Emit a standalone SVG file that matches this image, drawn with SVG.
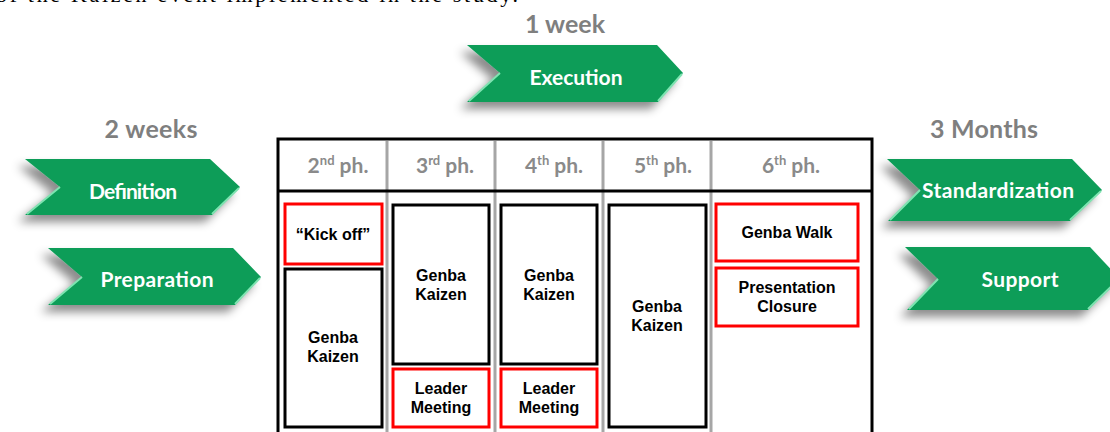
<svg xmlns="http://www.w3.org/2000/svg" width="1110" height="432" viewBox="0 0 1110 432">
<style>
.arrow{fill:#0c9d58}
.bevel{fill:none;stroke:#7fe3b1;stroke-width:2}
.atext{font-family:Lato,"Open Sans",sans-serif;font-weight:bold;font-size:21px;fill:#ffffff;text-anchor:middle}
.dur{font-family:Lato,"Open Sans",sans-serif;font-weight:bold;font-size:25px;fill:#7f7f7f;text-anchor:middle}
.hdr{font-family:Lato,"Open Sans",sans-serif;font-weight:bold;font-size:21px;fill:#8a8a8a;text-anchor:middle}
.sup{font-size:13px}
.bk{fill:#ffffff;stroke:#000000;stroke-width:3}
.rd{fill:#ffffff;stroke:#ff0000;stroke-width:3}
.bt{font-family:"Liberation Sans",Arial,sans-serif;font-weight:bold;font-size:16px;fill:#000000;text-anchor:middle}
.grid{stroke:#a6a6a6;stroke-width:3}
</style>
<defs>
<filter id="sh" x="-20%" y="-30%" width="140%" height="180%">
<feDropShadow dx="-7" dy="7" stdDeviation="5" flood-color="#000000" flood-opacity="0.45"/>
</filter>
</defs>
<rect width="1110" height="432" fill="#ffffff"/>
<text x="-4" y="2" font-family="'Liberation Serif','Times New Roman',serif" font-size="22" fill="#000000" textLength="522">of the Kaizen event implemented in the study.</text>

<g id="labels">
<text class="dur" x="151" y="138" textLength="93">2 weeks</text>
<text class="dur" x="565" y="33" textLength="80">1 week</text>
<text class="dur" x="984" y="138" textLength="108">3 Months</text>
</g>

<g id="definition">
<path class="arrow" filter="url(#sh)" d="M25,159 L210,159 L240,187 L212,215 L25,215 L60,187 Z"/>
<path class="bevel" d="M27,214 L60,187 M212,214 L239,188"/>
<text class="atext" x="133" y="199" textLength="88">Definition</text>
</g>
<g id="preparation">
<path class="arrow" filter="url(#sh)" d="M48,248 L233,248 L261,277 L235,305 L48,305 L82,277 Z"/>
<path class="bevel" d="M50,304 L82,277 M235,304 L260,278"/>
<text class="atext" x="157" y="287" textLength="113">Preparation</text>
</g>
<g id="execution">
<path class="arrow" filter="url(#sh)" d="M467,45 L657,45 L683,73 L658,102 L467,102 L500,73 Z"/>
<path class="bevel" d="M469,101 L500,73 M658,101 L682,74"/>
<text class="atext" x="576" y="85" textLength="93">Execution</text>
</g>
<g id="standardization">
<path class="arrow" filter="url(#sh)" d="M887,159 L1072,159 L1102,190 L1070,221 L888,221 L920,190 Z"/>
<path class="bevel" d="M890,220 L920,190 M1070,220 L1101,191"/>
<text class="atext" x="998" y="198" textLength="152">Standardization</text>
</g>
<g id="support">
<path class="arrow" filter="url(#sh)" d="M905,247 L1090,247 L1120,279 L1088,310 L907,310 L938,279 Z"/>
<path class="bevel" d="M909,309 L938,279 M1088,309 L1118,280"/>
<text class="atext" x="1020" y="287" textLength="77">Support</text>
</g>

<g id="table">
<rect x="278" y="139" width="594" height="310" fill="#ffffff" stroke="#000000" stroke-width="3"/>
<line class="grid" x1="387" y1="141" x2="387" y2="432"/>
<line class="grid" x1="495" y1="141" x2="495" y2="432"/>
<line class="grid" x1="603" y1="141" x2="603" y2="432"/>
<line class="grid" x1="711" y1="141" x2="711" y2="432"/>
<line x1="278" y1="191" x2="872" y2="191" stroke="#000000" stroke-width="3"/>
<text class="hdr" x="338" y="173">2<tspan class="sup" dy="-8">nd</tspan><tspan dy="8"> ph.</tspan></text>
<text class="hdr" x="445" y="173">3<tspan class="sup" dy="-8">rd</tspan><tspan dy="8"> ph.</tspan></text>
<text class="hdr" x="554" y="173">4<tspan class="sup" dy="-8">th</tspan><tspan dy="8"> ph.</tspan></text>
<text class="hdr" x="663" y="173">5<tspan class="sup" dy="-8">th</tspan><tspan dy="8"> ph.</tspan></text>
<text class="hdr" x="791" y="173">6<tspan class="sup" dy="-8">th</tspan><tspan dy="8"> ph.</tspan></text>
</g>

<g id="kickoff">
<rect class="rd" x="285" y="204" width="97" height="60"/>
<text class="bt" x="333" y="240">“Kick off”</text>
</g>
<g id="genba2">
<rect class="bk" x="285" y="269" width="97" height="158"/>
<text class="bt" x="333" y="343">Genba</text>
<text class="bt" x="333" y="362">Kaizen</text>
</g>
<g id="genba3">
<rect class="bk" x="393" y="205" width="96" height="159"/>
<text class="bt" x="441" y="281">Genba</text>
<text class="bt" x="441" y="300">Kaizen</text>
</g>
<g id="leader3">
<rect class="rd" x="393" y="369" width="96" height="58"/>
<text class="bt" x="441" y="394">Leader</text>
<text class="bt" x="441" y="413">Meeting</text>
</g>
<g id="genba4">
<rect class="bk" x="501" y="205" width="96" height="159"/>
<text class="bt" x="549" y="281">Genba</text>
<text class="bt" x="549" y="300">Kaizen</text>
</g>
<g id="leader4">
<rect class="rd" x="501" y="369" width="96" height="58"/>
<text class="bt" x="549" y="394">Leader</text>
<text class="bt" x="549" y="413">Meeting</text>
</g>
<g id="genba5">
<rect class="bk" x="609" y="205" width="97" height="222"/>
<text class="bt" x="657" y="312">Genba</text>
<text class="bt" x="657" y="331">Kaizen</text>
</g>
<g id="genbawalk">
<rect class="rd" x="716" y="204" width="142" height="57"/>
<text class="bt" x="787" y="238">Genba Walk</text>
</g>
<g id="presentation">
<rect class="rd" x="716" y="268" width="142" height="58"/>
<text class="bt" x="787" y="293">Presentation</text>
<text class="bt" x="787" y="312">Closure</text>
</g>
<g id="connectors"></g>
</svg>
